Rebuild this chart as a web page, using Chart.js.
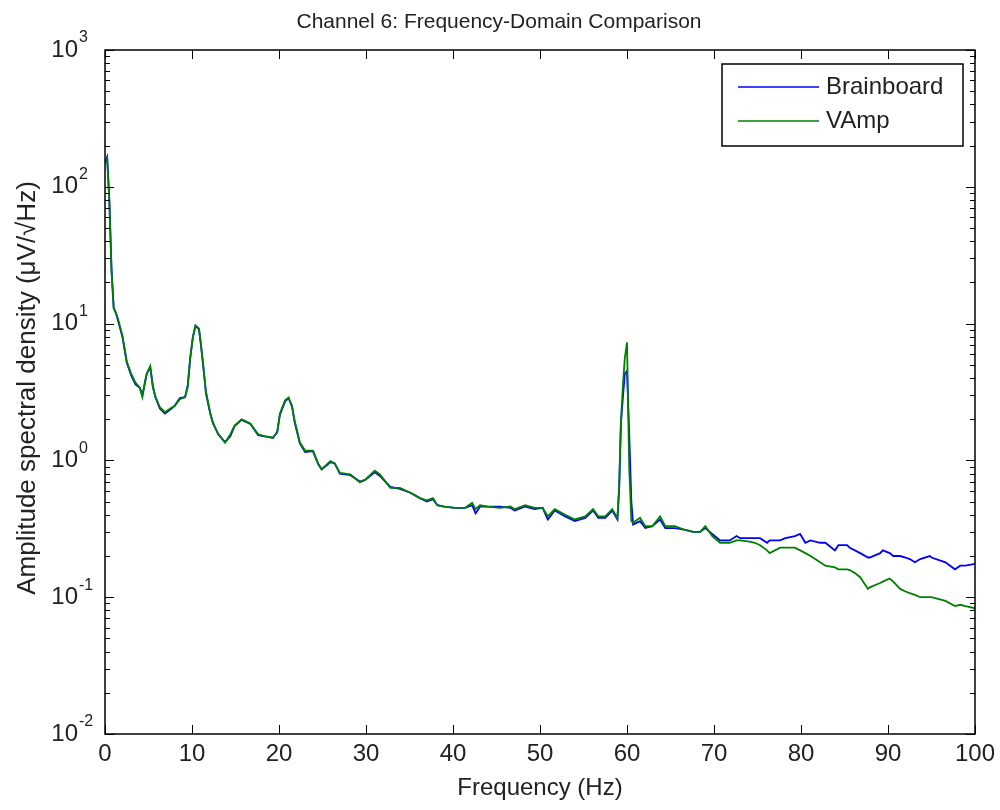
<!DOCTYPE html>
<html>
<head>
<meta charset="utf-8">
<script src="https://cdn.jsdelivr.net/npm/chart.js@4.4.1/dist/chart.umd.min.js"></script>
<style>
  body { margin: 0; background: #fff; }
  #wrap { width: 1000px; height: 810px; }
</style>
</head>
<body>
<div id="wrap"><canvas id="chart" width="1000" height="810"></canvas></div>
<script>
// values
const freq = [
  0, 0.25, 0.5, 0.75, 1.0, 1.25, 1.5, 2.0, 2.5, 3.0, 3.5, 4.0, 4.3, 4.6, 4.8, 5.2, 5.5, 5.8,
  6.3, 6.9, 7.5, 8.0, 8.6, 9.2, 9.5, 9.8, 10.1, 10.4, 10.8, 11.0, 11.3, 11.6, 12.1, 12.4,
  13.0, 13.8, 14.4, 14.9, 15.7, 16.7, 17.6, 18.4, 19.3, 19.8, 20.1, 20.7, 21.1, 21.5, 21.8,
  22.4, 23.0, 23.9, 24.5, 24.9, 25.9, 26.4, 27.0, 28.2, 29.3, 29.9, 31.0, 31.6, 32.8, 33.9,
  35.1, 36.2, 37.0, 37.7, 38.2, 39.0, 40.2, 41.4, 42.2, 42.6, 43.1, 44.0, 45.4, 46.6, 47.1,
  48.3, 49.4, 50.3, 50.9, 51.7, 52.9, 54.0, 55.2, 56.1, 56.7, 57.5, 58.3, 58.9, 59.1, 59.3,
  59.55, 59.75, 60.0, 60.25, 60.5, 60.7, 61.5, 62.1, 62.9, 63.8, 64.4, 65.5, 66.7, 67.6,
  68.4, 69.0, 69.8, 70.7, 71.8, 72.6, 73.0, 74.1, 74.7, 75.3, 76.1, 76.4, 77.6, 78.2, 79.3,
  79.9, 80.5, 81.1, 82.2, 82.8, 83.9, 84.3, 85.3, 85.6, 86.2, 86.8, 87.7, 87.9, 89.1, 89.4,
  90.2, 90.6, 91.4, 92.0, 92.5, 93.1, 93.7, 94.8, 95.0, 96.6, 97.7, 98.3, 98.9, 100
];
const brainboard = [
  150, 165, 80, 25, 13, 12, 10.5, 8.0, 5.2, 4.2, 3.6, 3.4, 3.0, 3.7, 4.3, 4.8, 3.5, 2.9,
  2.4, 2.2, 2.35, 2.5, 2.85, 2.9, 3.5, 5.6, 8.0, 9.6, 9.1, 7.3, 4.9, 3.1, 2.2, 1.9,
  1.55, 1.36, 1.5, 1.78, 1.98, 1.85, 1.53, 1.5, 1.46, 1.62, 2.15, 2.7, 2.85, 2.5, 1.9,
  1.33, 1.15, 1.17, 0.94, 0.86, 0.97, 0.95, 0.80, 0.78, 0.70, 0.72, 0.82, 0.77, 0.64, 0.62,
  0.58, 0.53, 0.50, 0.52, 0.47, 0.46, 0.45, 0.45, 0.47, 0.41, 0.46, 0.46, 0.46, 0.45, 0.43,
  0.46, 0.44, 0.45, 0.37, 0.43, 0.39, 0.36, 0.38, 0.43, 0.38, 0.38, 0.43, 0.37, 0.63, 1.86,
  3.0, 4.3, 4.5, 1.6, 0.50, 0.34, 0.36, 0.32, 0.33, 0.37, 0.32, 0.32, 0.31, 0.30,
  0.30, 0.32, 0.29, 0.26, 0.26, 0.28, 0.27, 0.27, 0.27, 0.27, 0.25, 0.26, 0.26, 0.27, 0.28,
  0.29, 0.25, 0.26, 0.25, 0.25, 0.22, 0.24, 0.24, 0.23, 0.22, 0.21, 0.195, 0.195, 0.21, 0.22,
  0.21, 0.20, 0.20, 0.195, 0.19, 0.18, 0.19, 0.20, 0.195, 0.18, 0.16, 0.17, 0.17, 0.175
];
const vamp = [
  150, 160, 78, 24, 13, 12, 10.8, 8.2, 5.3, 4.3, 3.7, 3.4, 2.9, 3.8, 4.3, 4.9, 3.4, 2.9,
  2.45, 2.25, 2.4, 2.5, 2.8, 2.9, 3.4, 5.7, 7.9, 9.7, 9.2, 7.2, 4.8, 3.2, 2.2, 1.86,
  1.57, 1.35, 1.55, 1.8, 2.0, 1.86, 1.55, 1.5, 1.47, 1.6, 2.2, 2.75, 2.88, 2.45, 1.95,
  1.35, 1.18, 1.18, 0.95, 0.86, 0.99, 0.95, 0.81, 0.79, 0.69, 0.72, 0.84, 0.79, 0.63, 0.63,
  0.58, 0.53, 0.51, 0.53, 0.47, 0.46, 0.45, 0.45, 0.49, 0.44, 0.47, 0.46, 0.45, 0.46, 0.44,
  0.47, 0.45, 0.45, 0.39, 0.44, 0.40, 0.37, 0.39, 0.44, 0.39, 0.39, 0.44, 0.38, 0.63, 1.9,
  3.7, 5.6, 7.3, 0.9, 0.36, 0.35, 0.38, 0.33, 0.33, 0.39, 0.33, 0.33, 0.31, 0.30,
  0.30, 0.33, 0.28, 0.25, 0.25, 0.26, 0.26, 0.255, 0.25, 0.24, 0.22, 0.21, 0.23, 0.23, 0.23,
  0.22, 0.21, 0.20, 0.18, 0.17, 0.165, 0.16, 0.16, 0.158, 0.15, 0.14, 0.115, 0.118, 0.127, 0.13,
  0.137, 0.13, 0.115, 0.11, 0.107, 0.104, 0.10, 0.10, 0.10, 0.094, 0.086, 0.088, 0.086, 0.083
];
const xTicks = [0, 10, 20, 30, 40, 50, 60, 70, 80, 90, 100];
const yTicks = [0.01, 0.1, 1, 10, 100, 1000];

const FONT = '"Liberation Sans", Arial, Helvetica, sans-serif';

function pts(ys) {
  return freq.map((f, i) => ({ x: f, y: ys[i] }));
}

// box, inward ticks, tick labels, titles and legend in MATLAB style
const matlabAxes = {
  id: 'matlabAxes',
  beforeDraw(chart) {
    const ctx = chart.ctx;
    ctx.save();
    ctx.fillStyle = '#fff';
    ctx.fillRect(0, 0, chart.width, chart.height);
    ctx.restore();
  },
  afterDraw(chart) {
    const ctx = chart.ctx;
    const a = chart.chartArea;
    const xs = chart.scales.x, ys = chart.scales.y;
    ctx.save();
    ctx.strokeStyle = '#000';
    ctx.lineWidth = 1.5;
    ctx.strokeRect(a.left, a.top, a.right - a.left, a.bottom - a.top);

    ctx.beginPath();
    xTicks.forEach(t => {
      const px = Math.round(xs.getPixelForValue(t)) + 0.5;
      ctx.moveTo(px, a.bottom); ctx.lineTo(px, a.bottom - 9);
      ctx.moveTo(px, a.top); ctx.lineTo(px, a.top + 9);
    });
    yTicks.forEach((t, i) => {
      const py = Math.round(ys.getPixelForValue(t)) + 0.5;
      ctx.moveTo(a.left, py); ctx.lineTo(a.left + 9, py);
      ctx.moveTo(a.right, py); ctx.lineTo(a.right - 9, py);
      if (i < yTicks.length - 1) {
        for (let m = 2; m <= 9; m++) {
          const my = Math.round(ys.getPixelForValue(t * m)) + 0.5;
          ctx.moveTo(a.left, my); ctx.lineTo(a.left + 5, my);
          ctx.moveTo(a.right, my); ctx.lineTo(a.right - 5, my);
        }
      }
    });
    ctx.lineWidth = 1;
    ctx.stroke();

    ctx.fillStyle = '#222';
    ctx.font = '24px ' + FONT;
    ctx.textAlign = 'center';
    ctx.textBaseline = 'middle';
    xTicks.forEach(t => {
      ctx.fillText(String(t), xs.getPixelForValue(t), a.bottom + 20);
    });

    yTicks.forEach(t => {
      const py = ys.getPixelForValue(t);
      ctx.font = '24px ' + FONT;
      ctx.textAlign = 'right';
      ctx.fillText('10', 78, py);
      ctx.font = '16px ' + FONT;
      ctx.textAlign = 'left';
      ctx.fillText(String(Math.round(Math.log10(t))), 79, py - 12);
    });

    ctx.font = '21px ' + FONT;
    ctx.textAlign = 'center';
    ctx.fillText('Channel 6: Frequency-Domain Comparison', 499, 22);

    ctx.font = '24px ' + FONT;
    ctx.fillText('Frequency (Hz)', (a.left + a.right) / 2, 788);

    ctx.save();
    ctx.translate(28, 388);
    ctx.rotate(-Math.PI / 2);
    ctx.font = '26px ' + FONT;
    ctx.fillText('Amplitude spectral density (\u03bcV/\u221aHz)', 0, 0);
    ctx.restore();

    // legend
    ctx.fillStyle = '#fff';
    ctx.fillRect(722, 64, 241, 82);
    ctx.strokeStyle = '#000';
    ctx.lineWidth = 1.5;
    ctx.strokeRect(722, 64, 241, 82);
    chart.data.datasets.forEach((ds, i) => {
      const ly = 87 + i * 34;
      ctx.strokeStyle = ds.borderColor;
      ctx.lineWidth = 1.6;
      ctx.beginPath();
      ctx.moveTo(738, ly); ctx.lineTo(819, ly);
      ctx.stroke();
      ctx.fillStyle = '#222';
      ctx.font = '24px ' + FONT;
      ctx.textAlign = 'left';
      ctx.fillText(ds.label, 826, ly);
    });
    ctx.restore();
  }
};

new Chart(document.getElementById('chart'), {
  type: 'line',
  data: {
    datasets: [
      { label: 'Brainboard', data: pts(brainboard), borderColor: '#0000ff', order: 1 },
      { label: 'VAmp', data: pts(vamp), borderColor: '#008000', order: 0 }
    ]
  },
  options: {
    responsive: false,
    animation: false,
    elements: {
      line: { borderWidth: 1.8, tension: 0, fill: false },
      point: { radius: 0 }
    },
    layout: { padding: { left: 105, top: 50, right: 25, bottom: 76 } },
    plugins: { legend: { display: false }, tooltip: { enabled: false }, title: { display: false } },
    scales: {
      x: { type: 'linear', min: 0, max: 100, display: false },
      y: { type: 'logarithmic', min: 0.01, max: 1000, display: false }
    }
  },
  plugins: [matlabAxes]
});
</script>
</body>
</html>
